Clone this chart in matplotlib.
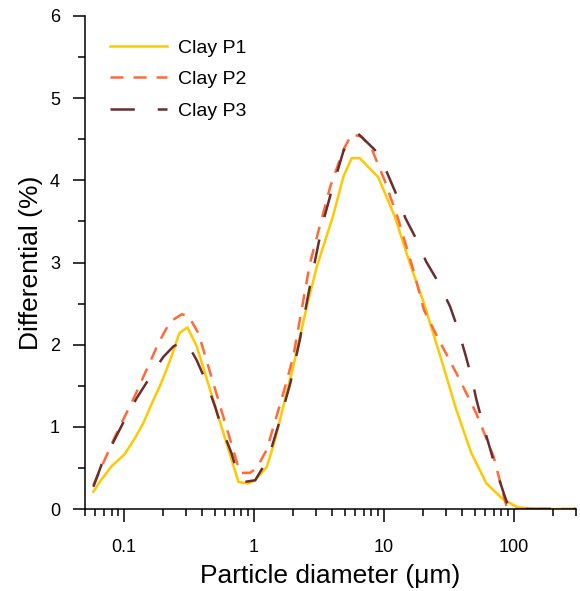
import matplotlib
matplotlib.use("Agg")
import matplotlib.pyplot as plt
from matplotlib.ticker import LogLocator, MultipleLocator, NullFormatter

plt.rcParams['font.family'] = ['Liberation Sans', 'DejaVu Sans']
plt.rcParams['lines.scale_dashes'] = False

# particle diameter (um) and differential volume (%)
p1_diam = [0.058, 0.065, 0.08, 0.1, 0.12, 0.141, 0.165, 0.189, 0.21, 0.233, 0.266, 0.307,
           0.362, 0.758, 0.90, 1.02, 1.25, 1.45, 1.68, 2.0, 2.54, 3.04, 4.04, 4.86, 5.63,
           6.5, 9.0, 12.1, 15.8, 20.3, 27.7, 36.1, 47.0, 61.4, 82, 107, 150, 200, 300]
p1_diff = [0.21, 0.33, 0.52, 0.66, 0.85, 1.05, 1.30, 1.50, 1.68, 1.87, 2.14, 2.21,
           1.98, 0.33, 0.31, 0.35, 0.51, 0.84, 1.25, 1.73, 2.46, 2.95, 3.56, 4.04, 4.27,
           4.27, 4.04, 3.56, 2.99, 2.50, 1.81, 1.20, 0.68, 0.31, 0.12, 0.02, 0.0, 0.0, 0.0]

p2_diam = [0.058, 0.085, 0.122, 0.184, 0.226, 0.278, 0.313, 0.373, 0.78, 0.93, 1.05,
           1.25, 1.68, 2.0, 2.69, 3.85, 4.86, 5.63, 6.74, 8.0, 10.1, 12.9, 16.8, 20.3,
           26.4, 37.2, 51.4, 69.6, 87.6, 92, 150, 300]
p2_diff = [0.29, 0.88, 1.39, 2.02, 2.28, 2.37, 2.35, 2.14, 0.44, 0.44, 0.50,
           0.72, 1.41, 1.85, 2.99, 3.92, 4.37, 4.56, 4.53, 4.39, 4.0, 3.52, 2.91, 2.42,
           2.06, 1.61, 1.16, 0.64, 0.03, 0.0, 0.0, 0.0]

p3_diam = [0.058, 0.067, 0.083, 0.102, 0.125, 0.159, 0.2, 0.24, 0.27, 0.30, 0.362, 0.433,
           0.5, 0.565, 0.67, 0.758, 0.85, 1.02, 1.29, 1.58, 1.9, 2.25, 2.62, 3.13, 3.43,
           3.96, 4.86, 5.63, 6.3, 8.5, 10.5, 12.5, 14.6, 17.9, 21.1, 26.4, 32.3, 37.2,
           42.1, 47.0, 51.4, 57.9, 65.3, 73.7, 85.1, 92, 150, 300]
p3_diff = [0.27, 0.54, 0.82, 1.10, 1.35, 1.61, 1.85, 1.98, 2.02, 2.04, 1.81, 1.53,
           1.25, 0.98, 0.68, 0.39, 0.33, 0.35, 0.62, 1.08, 1.53, 2.06, 2.62, 3.23, 3.52,
           3.88, 4.35, 4.56, 4.57, 4.37, 4.10, 3.82, 3.54, 3.27, 3.01, 2.75, 2.46, 2.18,
           1.89, 1.61, 1.33, 1.02, 0.74, 0.45, 0.15, 0.0, 0.0, 0.0]

x_major = [0.1, 1, 10, 100]
x_labels = ["0.1", "1", "10", "100"]

fig = plt.figure(figsize=(5.8, 5.91), dpi=100)
ax = fig.add_axes([85 / 580, 1 - 509 / 591, (576 - 85) / 580, (509 - 16) / 591])

ax.plot(p1_diam, p1_diff, color='#FFC800', lw=1.8, label='Clay P1')
ax.plot(p2_diam, p2_diff, color='#FF6A3A', lw=1.8, dashes=(9.4, 7.2), label='Clay P2')
ax.plot(p3_diam, p3_diff, color='#6B2D2D', lw=1.8, dashes=(17.5, 16.5), label='Clay P3')

ax.set_xscale('log')
ax.set_xlim(0.05, 300)
ax.set_ylim(0, 6)
ax.set_xticks(x_major)
ax.set_xticklabels(x_labels)
ax.xaxis.set_minor_locator(LogLocator(base=10, subs=range(2, 10), numticks=20))
ax.xaxis.set_minor_formatter(NullFormatter())
ax.yaxis.set_major_locator(MultipleLocator(1))
ax.yaxis.set_minor_locator(MultipleLocator(0.5))

for side in ('top', 'right'):
    ax.spines[side].set_visible(False)
for side in ('left', 'bottom'):
    ax.spines[side].set_linewidth(1.1)

ax.tick_params(which='major', direction='out', length=9, width=1.1, labelsize=13)
ax.tick_params(which='minor', direction='out', length=5, width=1.1)
ax.tick_params(axis='x', which='major', pad=12.5)
ax.tick_params(axis='y', which='major', pad=9)

ax.set_xlabel("Particle diameter (\u03bcm)", fontsize=19, labelpad=6)
ax.set_ylabel("Differential (%)", fontsize=19, labelpad=5)

ax.legend(loc='upper left', bbox_to_anchor=(110 / 580, 1 - 39 / 591), bbox_transform=fig.transFigure,
          frameon=False, fontsize=14, handlelength=2.95, handletextpad=0.55,
          labelspacing=0.72, borderpad=0, borderaxespad=0)

fig.savefig("out.png", dpi=100)
